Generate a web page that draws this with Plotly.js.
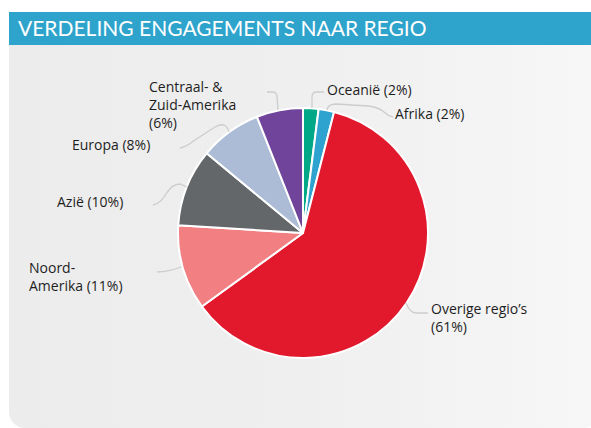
<!DOCTYPE html>
<html>
<head>
<meta charset="utf-8">
<script src="https://cdn.plot.ly/plotly-3.0.1.min.js"></script>
<style>
  html, body { margin: 0; padding: 0; background: #ffffff; }
  #wrap { position: relative; width: 591px; height: 428px; overflow: hidden; }
  #hdr { position: absolute; left: 9px; top: 12px; width: 582px; height: 33px; background: #2ea3cc; }
  #panel { position: absolute; left: 9px; top: 45px; width: 590px; height: 383px;
           border-radius: 0 0 16px 16px;
           background: linear-gradient(to right, #ececec 0%, #efefef 50%, #f7f7f7 100%); }
  #chart { position: absolute; left: 0; top: 0; width: 591px; height: 428px; }
</style>
</head>
<body>
<div id="wrap">
  <div id="hdr"></div>
  <div id="panel"></div>
  <div id="chart"></div>
</div>
<script>
// ---- data ----
var regions = ["Oceanië", "Afrika", "Overige regio's", "Noord-Amerika", "Azië", "Europa", "Centraal- & Zuid-Amerika"];
var shares = [2, 2, 61, 11, 10, 8, 6];
var sliceColors = ["#00a887", "#2ea3cf", "#e2192d", "#f28083", "#63676a", "#acbcd6", "#6f449a"];
var labelTexts = ["Oceanië (2%)", "Afrika (2%)", "Overige regio’s<br>(61%)", "Noord-<br>Amerika (11%)", "Azië (10%)", "Europa (8%)", "Centraal- &<br>Zuid-Amerika<br>(6%)"];
var chartTitle = "VERDELING ENGAGEMENTS NAAR REGIO";

// ---- layout helpers (pixel -> paper) ----
var W = 591, H = 428;
function px(x) { return x / W; }
function py(y) { return 1 - y / H; }
function path(pts) {
  return pts.map(function (p) {
    var s = p[0];
    for (var i = 1; i < p.length; i += 2) {
      s += " " + px(p[i]).toFixed(5) + "," + py(p[i + 1]).toFixed(5);
    }
    return s;
  }).join(" ");
}

var cx = 303, cy = 233, r = 125;

// label anchor positions (left x, middle y) in pixels
var labelPos = [
  [325, 90], [393, 114], [429, 317], [27, 276], [55, 201], [70, 145], [147, 105]
];

var leaderPaths = [
  [["M",312,108],["L",312,97],["Q",312,92,317,92],["L",324,92]],
  [["M",327,110],["Q",328,104,336,104],["L",368,106],["Q",378,107,384,112],["Q",388,116,393,117]],
  [["M",406,303],["Q",410,313,416,313],["L",428,313]],
  [["M",157,272],["Q",165,272,172,270],["L",181,267]],
  [["M",153,205],["Q",160,204,166,194],["Q",172,184,180,184],["L",187,187]],
  [["M",180,148],["Q",186,147,195,140],["L",215,127],["Q",220,124,224,125],["Q",228,127,229,132]],
  [["M",267,92],["L",272,92],["Q",277,92,277,97],["L",278,110]]
];

var trace = {
  type: "pie",
  labels: regions,
  values: shares,
  sort: false,
  direction: "clockwise",
  rotation: 0,
  textinfo: "none",
  hoverinfo: "label+percent",
  showlegend: false,
  marker: { colors: sliceColors, line: { color: "#ffffff", width: 2 } },
  domain: { x: [px(cx - r), px(cx + r)], y: [py(cy + r), py(cy - r)] }
};

var annotations = labelTexts.map(function (t, i) {
  return {
    text: t, xref: "paper", yref: "paper",
    x: px(labelPos[i][0]), y: py(labelPos[i][1]),
    xanchor: "left", yanchor: "middle", align: "left",
    showarrow: false,
    font: { family: "'Open Sans', Lato, sans-serif", size: 14, color: "#1e1e1e" }
  };
});

var shapes = leaderPaths.map(function (p) {
  return {
    type: "path", xref: "paper", yref: "paper",
    path: path(p),
    line: { color: "#cdcdcd", width: 1.3 }
  };
});

var layout = {
  width: W, height: H,
  margin: { l: 0, r: 0, t: 0, b: 0 },
  paper_bgcolor: "rgba(0,0,0,0)",
  plot_bgcolor: "rgba(0,0,0,0)",
  title: {
    text: chartTitle,
    x: px(18), xanchor: "left", xref: "paper",
    y: py(29), yanchor: "middle", yref: "paper",
    font: { family: "Lato, 'Open Sans', sans-serif", size: 21, color: "#ffffff" }
  },
  annotations: annotations,
  shapes: shapes
};

Plotly.newPlot("chart", [trace], layout, { displayModeBar: false, staticPlot: true });
</script>
</body>
</html>
